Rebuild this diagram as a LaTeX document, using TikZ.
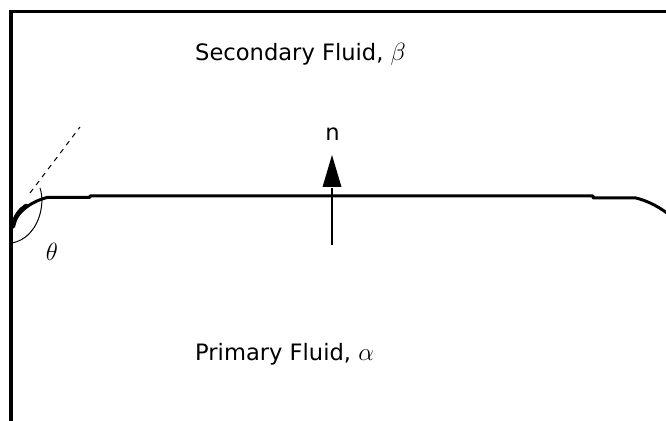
\documentclass[tikz,border=0pt]{standalone}
\usepackage{fontspec}
\setmainfont{DejaVu Sans}
\usetikzlibrary{arrows.meta}
\begin{document}
\begin{tikzpicture}[x=1pt,y=1pt,
  frameline/.style={line width=3.5pt},
  iface/.style={line width=3pt, line join=round},
  thinline/.style={line width=1pt},
  lbl/.style={inner sep=0pt, font=\fontsize{22.6}{26}\selectfont}]
\newcommand{\bigmath}[1]{{\fontsize{27}{30}\selectfont$#1$}}
\useasboundingbox (0,0) rectangle (666,420);
\begin{scope}
\clip (0,0) rectangle (666,420);
% frame
\draw[frameline] (11,-5) -- (11,408.5) -- (672,408.5);
% interface
\coordinate (wall) at (12.5,192);
\coordinate (contact) at (47,222.5);
\draw[iface] (wall) .. controls (15,207) and (30,218) .. (contact)
  -- (90,222.5) -- (90,224) -- (593,224) -- (593,222) -- (636,222)
  .. controls (648,219) and (660,213) .. (672,203);
\draw[line width=4.5pt, line cap=round] (13,194) .. controls (15,204) and (20,210) .. (26,214);
% tangent (dashed)
\coordinate (tanA) at (30,227);
\coordinate (tanB) at (80,293);
\draw[thinline, dash pattern=on 5pt off 5pt] (tanA) -- (tanB);
% contact angle arc
\coordinate (arcA) at (40,232);
\coordinate (arcB) at (12,177);
\draw[thinline] (arcA) .. controls (46,215) and (38,182) .. (arcB);
% normal vector
\coordinate (nfoot) at (332,175);
\coordinate (nbase) at (332,232);
\coordinate (ntip) at (332,265);
\draw[line width=1.3pt] (nfoot) -- (nbase);
\fill (322.5,233) -- (341.5,233) -- (ntip) -- cycle;
\end{scope}
% labels
\node[lbl, anchor=base west] (sec) at (195,359) {Secondary Fluid, \bigmath{\beta}};
\node[lbl, anchor=base west] (pri) at (195,59) {Primary Fluid, \bigmath{\alpha}};
\node[lbl, anchor=base] (nlab) at (332.5,279) {n};
\node[lbl] (theta) at (52,168) {\bigmath{\theta}};
\end{tikzpicture}
\end{document}
